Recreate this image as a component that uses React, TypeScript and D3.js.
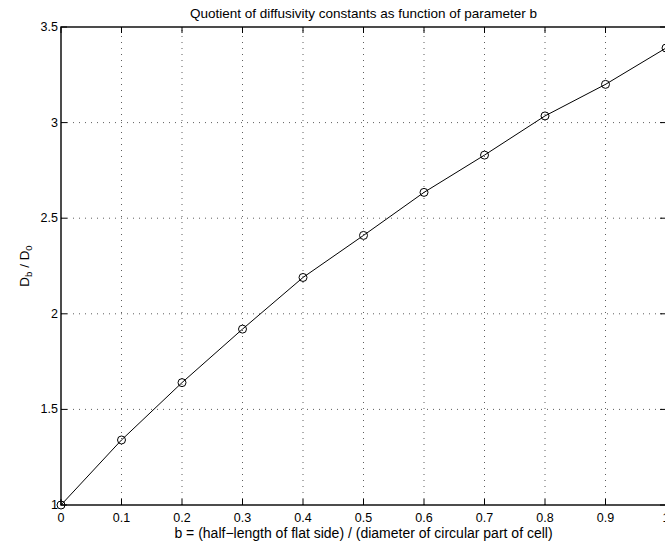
import React from "react";
import { scaleLinear, line } from "d3";

const bValues = [0, 0.1, 0.2, 0.3, 0.4, 0.5, 0.6, 0.7, 0.8, 0.9, 1.0];
const quotient = [1.0, 1.34, 1.64, 1.92, 2.19, 2.41, 2.635, 2.83, 3.035, 3.2, 3.39];
const xTicks = [0, 0.1, 0.2, 0.3, 0.4, 0.5, 0.6, 0.7, 0.8, 0.9, 1];
const yTicks = [1, 1.5, 2, 2.5, 3, 3.5];

const W = 665;
const H = 545;
const left = 61;
const right = 666;
const top = 27;
const bottom = 505;
const font = "'Liberation Sans', Arial, Helvetica, sans-serif";

const App = () => {
  const x = scaleLinear().domain([0, 1]).range([left, right]);
  const y = scaleLinear().domain([1, 3.5]).range([bottom, top]);
  const path = line<number>()
    .x((d, i) => x(bValues[i]))
    .y((d) => y(d))(quotient);
  const tl = 6;

  return (
    <svg
      width={W}
      height={H}
      style={{ position: "absolute", left: 0, top: 0, background: "#fff" }}
      fontFamily={font}
    >
      <rect x={0} y={0} width={W} height={H} fill="#fff" />
      {/* grid */}
      <g stroke="#333" strokeWidth={0.8} strokeDasharray="1,5">
        {xTicks.slice(1, -1).map((t) => (
          <line key={"gx" + t} x1={x(t)} x2={x(t)} y1={bottom} y2={top} />
        ))}
        {yTicks.slice(1, -1).map((t) => (
          <line key={"gy" + t} x1={left} x2={right} y1={y(t)} y2={y(t)} />
        ))}
      </g>
      {/* ticks */}
      <g stroke="#000" strokeWidth={1}>
        {xTicks.map((t) => (
          <g key={"tx" + t}>
            <line x1={x(t)} x2={x(t)} y1={bottom} y2={bottom - tl} />
            <line x1={x(t)} x2={x(t)} y1={top} y2={top + tl} />
          </g>
        ))}
        {yTicks.map((t) => (
          <g key={"ty" + t}>
            <line x1={left} x2={left + tl} y1={y(t)} y2={y(t)} />
            <line x1={right} x2={right - tl} y1={y(t)} y2={y(t)} />
          </g>
        ))}
      </g>
      {/* box */}
      <rect
        x={left}
        y={top}
        width={right - left}
        height={bottom - top}
        fill="none"
        stroke="#000"
        strokeWidth={1.4}
      />
      {/* data */}
      <path d={path ?? ""} fill="none" stroke="#000" strokeWidth={1} />
      {quotient.map((v, i) => (
        <circle
          key={"p" + i}
          cx={x(bValues[i])}
          cy={y(v)}
          r={4}
          fill="none"
          stroke="#000"
          strokeWidth={1}
        />
      ))}
      {/* tick labels */}
      <g fontSize={12.5} fill="#000">
        {xTicks.map((t) => (
          <text key={"lx" + t} x={x(t)} y={522} textAnchor="middle">
            {String(t)}
          </text>
        ))}
        {yTicks.map((t) => (
          <text key={"ly" + t} x={left - 3} y={y(t) + 4} textAnchor="end">
            {String(t)}
          </text>
        ))}
      </g>
      {/* title and labels */}
      <text x={(left + right) / 2} y={18} textAnchor="middle" fontSize={13.5}>
        Quotient of diffusivity constants as function of parameter b
      </text>
      <text x={(left + right) / 2} y={538} textAnchor="middle" fontSize={14}>
        b = (half−length of flat side) / (diameter of circular part of cell)
      </text>
      <text
        transform={`translate(29, ${(top + bottom) / 2}) rotate(-90)`}
        textAnchor="middle"
        fontSize={13.5}
      >
        D<tspan fontSize={9.5} dy={3}>b</tspan>
        <tspan dy={-3}> / D</tspan>
        <tspan fontSize={9.5} dy={3}>0</tspan>
      </text>
    </svg>
  );
};

export default App;
